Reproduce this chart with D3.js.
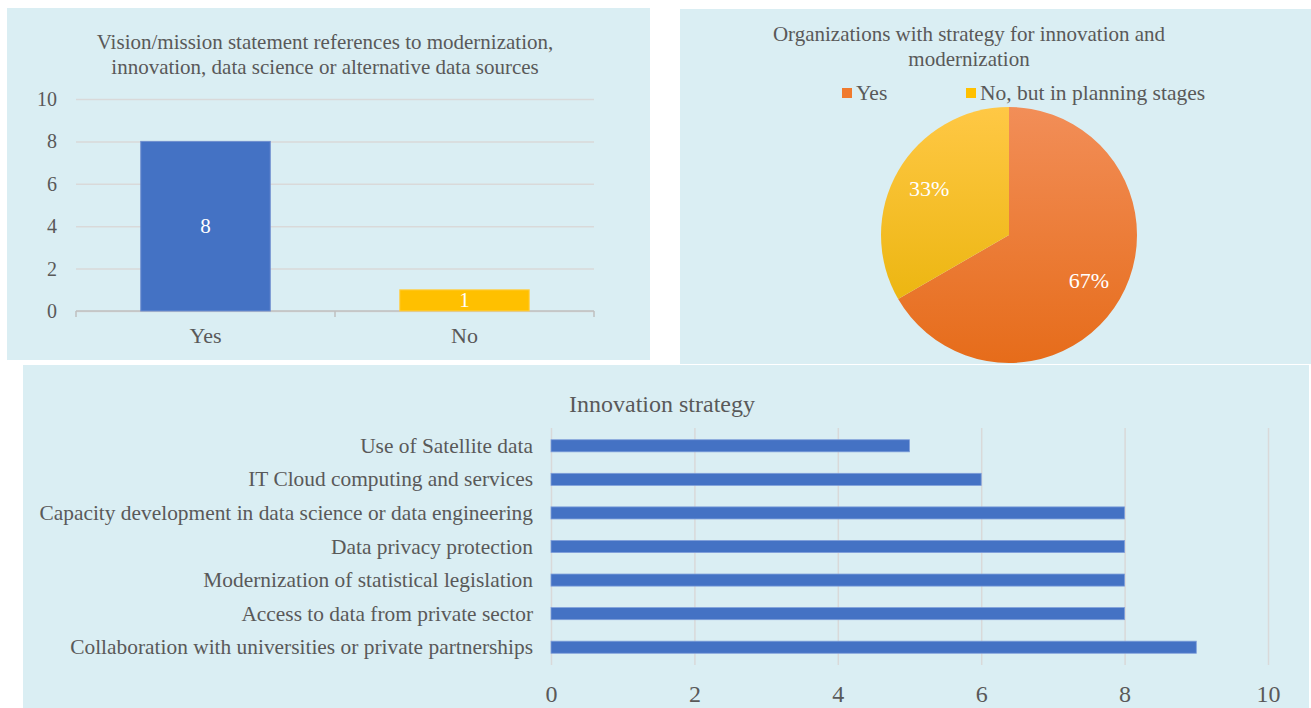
<!DOCTYPE html>
<html>
<head>
<meta charset="utf-8">
<script src="https://cdn.jsdelivr.net/npm/d3@7"></script>
<style>
  body { margin: 0; background: #fff; }
  text { font-family: "Liberation Serif", "Times New Roman", serif; fill: #595959; }
</style>
</head>
<body>
<div class="chart"></div>
<script>
// vision / mission chart
var visionCats = ["Yes", "No"];
var visionVals = [8, 1];
var visionTicks = [0, 2, 4, 6, 8, 10];

// strategy pie
var strategyCats = ["Yes", "No, but in planning stages"];
var strategyVals = [6, 3];

// innovation strategy bars (top to bottom)
var innovCats = [
	"Use of Satellite data",
	"IT Cloud computing and services",
	"Capacity development in data science or data engineering",
	"Data privacy protection",
	"Modernization of statistical legislation",
	"Access to data from private sector",
	"Collaboration with universities or private partnerships"
];
var innovVals = [5, 6, 8, 8, 8, 8, 9];
var innovTicks = [0, 2, 4, 6, 8, 10];

const bg = "#DAEEF3";
const blue = "#4472C4";
const grid = "#D9D9D9";

var svg = d3.select(".chart").append("svg")
	.attr("width", 1311)
	.attr("height", 708);

var defs = svg.append("defs");

// panneaux
svg.append("rect").attr("x", 7).attr("y", 8).attr("width", 643).attr("height", 352).attr("fill", bg);
svg.append("rect").attr("x", 680).attr("y", 9).attr("width", 631).attr("height", 355).attr("fill", bg);
svg.append("rect").attr("x", 23).attr("y", 365).attr("width", 1286).attr("height", 343).attr("fill", bg);

// ---------- chart 1 : colonnes ----------
(function() {
	var x = d3.scaleBand().domain(visionCats).range([76, 594]).paddingInner(0.5).paddingOuter(0.25);
	var y = d3.scaleLinear().domain([0, 10]).range([311, 99]);
	var g = svg.append("g");

	g.append("text").attr("x", 325).attr("y", 49).attr("text-anchor", "middle")
		.style("font-size", "21px").text("Vision/mission statement references to modernization,");
	g.append("text").attr("x", 325).attr("y", 74).attr("text-anchor", "middle")
		.style("font-size", "21px").text("innovation, data science or alternative data sources");

	var yAxis = d3.axisLeft(y).tickValues(visionTicks).tickSize(-(594 - 76)).tickPadding(19);
	var ya = g.append("g").attr("transform", "translate(76,0)").call(yAxis);
	ya.select(".domain").remove();
	ya.selectAll("line").attr("stroke", grid).attr("stroke-width", 1.5);
	ya.selectAll("text").style("font-size", "20px").attr("fill", "#595959")
		.style("font-family", "Liberation Serif");

	// axe des categories
	g.append("line").attr("x1", 76).attr("x2", 594).attr("y1", y(0)).attr("y2", y(0))
		.attr("stroke", "#BFBFBF").attr("stroke-width", 1.5);
	[76, 335, 594].forEach(function(t) {
		g.append("line").attr("x1", t).attr("x2", t).attr("y1", y(0)).attr("y2", y(0) + 6)
			.attr("stroke", "#BFBFBF").attr("stroke-width", 1.5);
	});

	g.selectAll(".bar").data(visionVals).enter().append("rect")
		.attr("x", function(d, i) { return x(visionCats[i]); })
		.attr("y", function(d) { return y(d); })
		.attr("width", x.bandwidth())
		.attr("height", function(d) { return y(0) - y(d); })
		.attr("fill", function(d, i) { return i == 0 ? blue : "#FFC000"; })
		.attr("stroke", function(d, i) { return i == 0 ? "#6F8FD0" : "#FFD04D"; })
		.attr("stroke-width", 1);

	g.selectAll(".lbl").data(visionVals).enter().append("text")
		.attr("x", function(d, i) { return x(visionCats[i]) + x.bandwidth() / 2; })
		.attr("y", function(d) { return (y(d) + y(0)) / 2 + 7; })
		.attr("text-anchor", "middle")
		.style("font-size", "21px")
		.style("fill", "#fff")
		.text(function(d) { return d; });

	g.selectAll(".cat").data(visionCats).enter().append("text")
		.attr("x", function(d) { return x(d) + x.bandwidth() / 2; })
		.attr("y", 343)
		.attr("text-anchor", "middle")
		.style("font-size", "22px")
		.text(function(d) { return d; });
})();

// ---------- chart 2 : camembert ----------
(function() {
	var cx = 1009, cy = 235, r = 128;
	var g = svg.append("g");

	g.append("text").attr("x", 969).attr("y", 41).attr("text-anchor", "middle")
		.style("font-size", "21px").text("Organizations with strategy for innovation and");
	g.append("text").attr("x", 969).attr("y", 66).attr("text-anchor", "middle")
		.style("font-size", "21px").text("modernization");

	var grads = [
		{id: "g-orange", top: "#F28E58", bottom: "#E66C1A"},
		{id: "g-yellow", top: "#FFC845", bottom: "#E6B000"}
	];
	grads.forEach(function(d) {
		var lg = defs.append("linearGradient").attr("id", d.id)
			.attr("gradientUnits", "userSpaceOnUse")
			.attr("x1", 0).attr("y1", -r).attr("x2", 0).attr("y2", r);
		lg.append("stop").attr("offset", "0%").attr("stop-color", d.top);
		lg.append("stop").attr("offset", "100%").attr("stop-color", d.bottom);
	});

	// legende
	var legX = [842, 966];
	var legColors = ["#F07A2E", "#FFC000"];
	strategyCats.forEach(function(c, i) {
		g.append("rect").attr("x", legX[i]).attr("y", 88).attr("width", 10).attr("height", 10)
			.attr("fill", legColors[i]);
		g.append("text").attr("x", legX[i] + 14).attr("y", 100).style("font-size", "21.5px").text(c);
	});

	var pie = d3.pie().sort(null);
	var arcs = pie(strategyVals);
	var arc = d3.arc().innerRadius(0).outerRadius(r);
	var total = d3.sum(strategyVals);

	var pg = g.append("g").attr("transform", "translate(" + cx + "," + cy + ")");
	pg.selectAll("path").data(arcs).enter().append("path")
		.attr("d", arc)
		.attr("fill", function(d, i) { return "url(#" + grads[i].id + ")"; });

	var lblArc = d3.arc().innerRadius(r * 0.72).outerRadius(r * 0.72);
	pg.selectAll(".pl").data(arcs).enter().append("text")
		.attr("transform", function(d) { var c = lblArc.centroid(d); return "translate(" + c[0] + "," + (c[1] + 7) + ")"; })
		.attr("text-anchor", "middle")
		.style("font-size", "22px")
		.style("fill", "#fff")
		.text(function(d) { return Math.round(d.value / total * 100) + "%"; });
})();

// ---------- chart 3 : barres horizontales ----------
(function() {
	var x = d3.scaleLinear().domain([0, 10]).range([551, 1268]);
	var y = d3.scaleBand().domain(innovCats).range([429, 664]).paddingInner(0.64).paddingOuter(0.32);
	var g = svg.append("g");

	g.append("text").attr("x", 662).attr("y", 412).attr("text-anchor", "middle")
		.style("font-size", "24px").text("Innovation strategy");

	var xAxis = d3.axisBottom(x).tickValues(innovTicks).tickSize(-(665 - 428)).tickPadding(20);
	var xa = g.append("g").attr("transform", "translate(0,665)").call(xAxis);
	xa.select(".domain").remove();
	xa.selectAll("line").attr("stroke", grid).attr("stroke-width", 1.5);
	xa.selectAll("text").style("font-size", "24px").attr("fill", "#595959")
		.style("font-family", "Liberation Serif");

	g.selectAll(".bar").data(innovVals).enter().append("rect")
		.attr("x", x(0))
		.attr("y", function(d, i) { return y(innovCats[i]); })
		.attr("width", function(d) { return x(d) - x(0); })
		.attr("height", y.bandwidth())
		.attr("fill", blue)
		.attr("stroke", "#7F9FDA")
		.attr("stroke-width", 0.8);

	g.selectAll(".cat").data(innovCats).enter().append("text")
		.attr("x", 533)
		.attr("y", function(d) { return y(d) + y.bandwidth() / 2 + 7; })
		.attr("text-anchor", "end")
		.style("font-size", "21.4px")
		.text(function(d) { return d; });
})();
</script>
</body>
</html>
